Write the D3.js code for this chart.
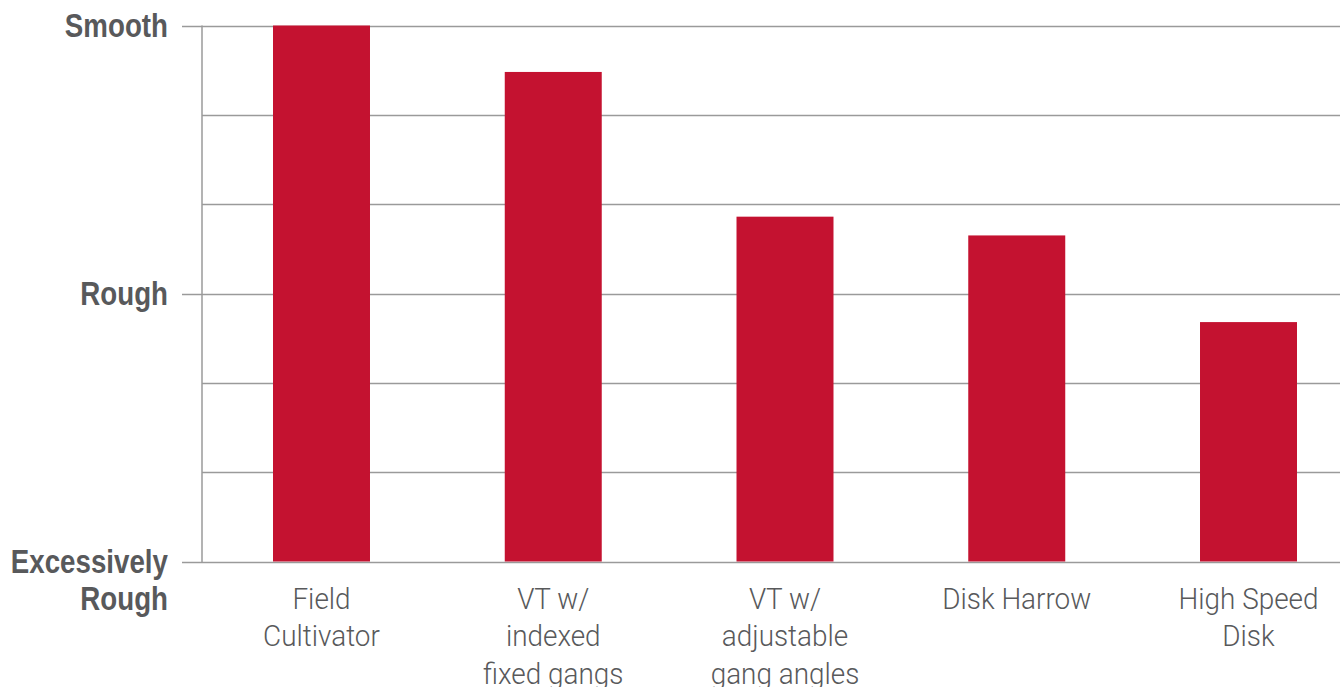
<!DOCTYPE html>
<html>
<head>
<meta charset="utf-8">
<script src="https://cdn.jsdelivr.net/npm/d3@7"></script>
<style>
html,body{margin:0;padding:0;background:#fff;}
svg{display:block;}
</style>
</head>
<body>
<svg id="chart" width="1340" height="687"></svg>
<script>
const categories = [
  ["Field", "Cultivator"],
  ["VT w/", "indexed", "fixed gangs"],
  ["VT w/", "adjustable", "gang angles"],
  ["Disk Harrow"],
  ["High Speed", "Disk"]
];
const values = [6.0, 5.48, 3.86, 3.65, 2.68];
const yTickValues = [0, 1, 2, 3, 4, 5, 6];
const yLabels = [
  {v: 0, lines: ["Excessively", "Rough"]},
  {v: 3, lines: ["Rough"]},
  {v: 6, lines: ["Smooth"]}
];

const svg = d3.select("#chart");
const W = 1340;
const axisX = 202;
const y = d3.scaleLinear().domain([0, 6]).range([561.5, 25.5]);
const x = d3.scaleBand().domain(d3.range(categories.length)).range([273, 1297]).paddingInner(0.5815).paddingOuter(0);

const grid = "#9a9a9a";
const textCol = "#58595b";

// gridlines
svg.append("g").selectAll("line").data(yTickValues).join("line")
  .attr("x1", axisX).attr("x2", W)
  .attr("y1", d => Math.round(y(d)) + 0.5).attr("y2", d => Math.round(y(d)) + 0.5)
  .attr("stroke", grid).attr("stroke-width", 1.5);

// major ticks
svg.append("g").selectAll("line").data(yLabels).join("line")
  .attr("x1", 182).attr("x2", axisX)
  .attr("y1", d => Math.round(y(d.v)) + 0.5).attr("y2", d => Math.round(y(d.v)) + 0.5)
  .attr("stroke", grid).attr("stroke-width", 1.5);

// axis line
svg.append("line")
  .attr("x1", axisX).attr("x2", axisX)
  .attr("y1", y(6)).attr("y2", y(0) + 1)
  .attr("stroke", grid).attr("stroke-width", 1.5);

// bars
svg.append("g").selectAll("rect").data(values).join("rect")
  .attr("x", (d, i) => x(i))
  .attr("width", x.bandwidth())
  .attr("y", d => y(d))
  .attr("height", d => y(0) - y(d))
  .attr("fill", "#c41230");

// y labels (condensed via horizontal scale)
const yl = svg.append("g").selectAll("text").data(yLabels).join("text")
  .attr("transform", d => `translate(168,${y(d.v)}) scale(0.84,1)`)
  .attr("text-anchor", "end")
  .attr("font-family", "'Liberation Sans', Arial, sans-serif")
  .attr("font-weight", "bold")
  .attr("font-size", 33)
  .attr("fill", textCol);
yl.each(function(d) {
  const t = d3.select(this);
  d.lines.forEach((l, i) => {
    t.append("tspan").attr("x", 0).attr("y", 11.5 + i * 37.5).text(l);
  });
});

// x labels
const xl = svg.append("g").selectAll("text").data(categories).join("text")
  .attr("transform", (d, i) => `translate(${x(i) + x.bandwidth() / 2},609) scale(0.93,1)`)
  .attr("text-anchor", "middle")
  .attr("font-family", "Roboto, 'Liberation Sans', sans-serif")
  .attr("font-weight", 300)
  .attr("font-size", 30)
  .attr("fill", textCol);
xl.each(function(d) {
  const t = d3.select(this);
  d.forEach((l, j) => {
    t.append("tspan").attr("x", 0).attr("y", j * 37.5).text(l);
  });
});
</script>
</body>
</html>
